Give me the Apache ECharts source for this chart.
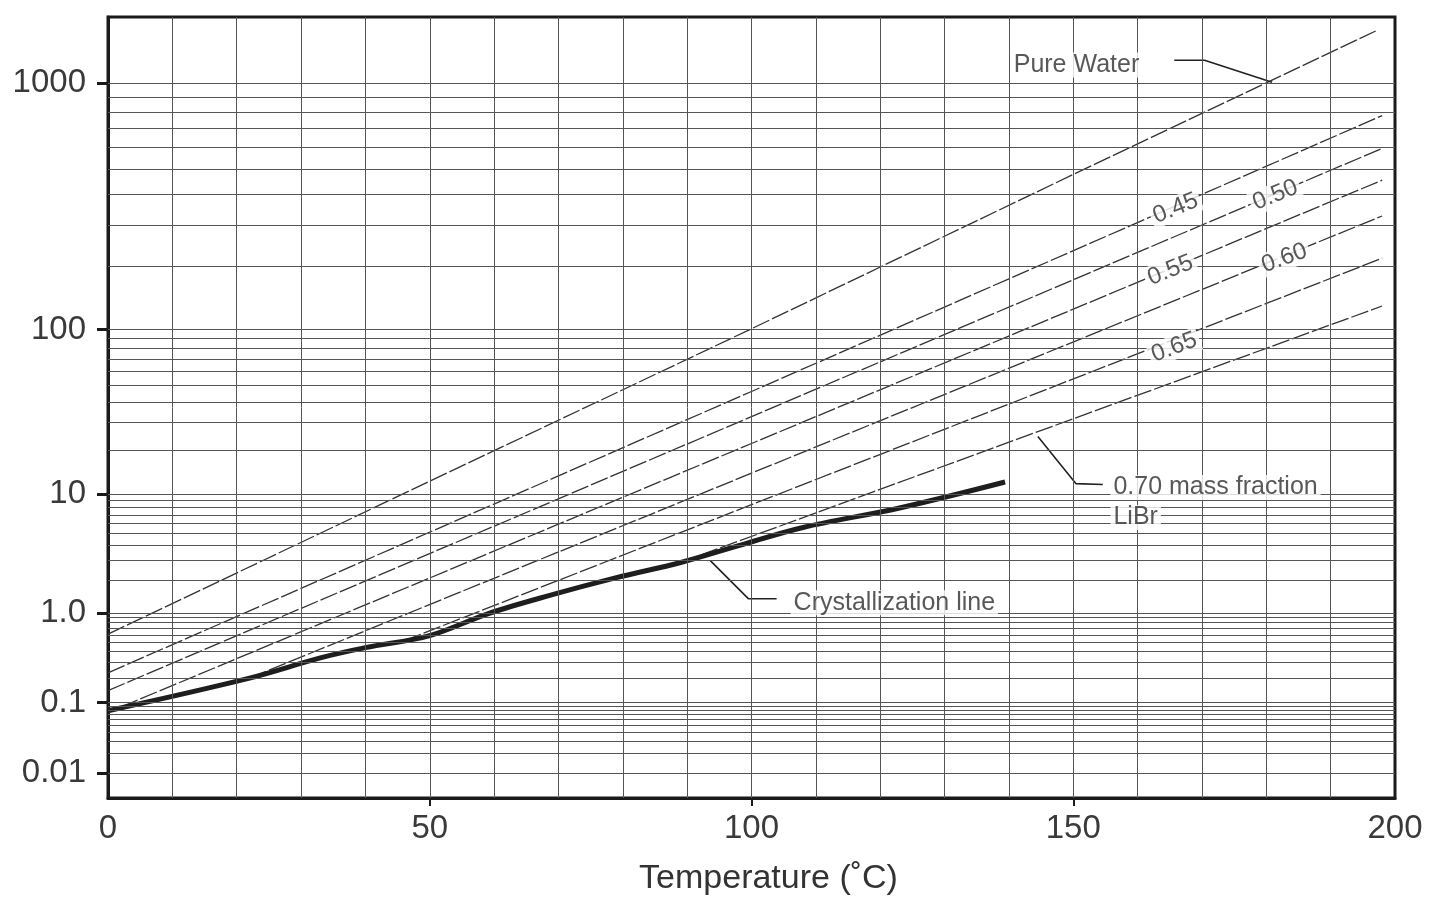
<!DOCTYPE html>
<html>
<head>
<meta charset="utf-8">
<title>LiBr solution vapour pressure</title>
<script src="https://cdn.jsdelivr.net/npm/echarts@6/dist/echarts.min.js"></script>
<style>
  html, body { margin: 0; padding: 0; background: #fff; }
  #chart { width: 1435px; height: 902px; }
</style>
</head>
<body>
<div id="chart"></div>
<script>
// [temperature °C, vapour pressure kPa]
var pureWater = [[0, 0.611], [50, 12.35], [100, 101.4], [150, 476], [197, 1460]];
var libr45 = [[0, 0.2305], [100, 46.1], [198, 777.5]];
var libr50 = [[0, 0.1417], [100, 32.7], [198, 595]];
var libr55 = [[2, 0.088], [100, 22.18], [198, 452.6]];
var libr60 = [[22, 0.20], [100, 14.05], [198, 326.8]];
var libr65 = [[46, 0.52], [100, 8.354], [198, 216.8]];
var libr70 = [[89, 2.9], [140, 22.6], [198, 131.0]];
var crystallization = [[0, 0.079], [22, 0.20], [33, 0.34], [40, 0.44], [50, 0.59], [59, 0.98],
  [68.5, 1.46], [79, 2.13], [89, 2.89], [98, 4.0], [108, 5.6], [123, 7.9], [139.4, 12.2]];

// axis ticks
var xLabelValues = [0, 50, 100, 150, 200];
var xTickValues = [50, 100, 150];
var xGridTemps = [10, 20, 30, 40, 50, 60, 70, 80, 90, 100, 110, 120, 130, 140, 150, 160, 170, 180, 190];
var yTickKpa = [0.01, 0.1, 1, 10, 100, 1000];
var yTickText = ['0.01', '0.1', '1.0', '10', '100', '1000'];
var gridDecades = [0.01, 0.1, 1, 10, 100];
var gridSteps = [1, 2, 3, 4, 5, 6, 7, 8, 9];

// the pressure scale is spaced by the saturation temperature of water (Antoine)
function satTemp(kpa) {
  var lg = Math.log10(kpa * 7.50062);
  if (kpa < 101.325) return 1730.63 / (8.07131 - lg) - 233.426;
  return 1810.94 / (8.14019 - lg) - 244.485;
}
function toAxis(list) {
  return list.map(function (p) { return [p[0], satTemp(p[1])]; });
}

var yTickU = yTickKpa.map(satTemp);
var gridKpa = [];
gridDecades.forEach(function (d) {
  gridSteps.forEach(function (s) { gridKpa.push(d * s); });
});
gridKpa.push(1000);

var FONT = '"Liberation Sans", Arial, sans-serif';

function solutionLine(name, data) {
  return {
    name: name, type: 'line', data: toAxis(data), symbol: 'none', z: 3,
    lineStyle: { color: '#333', width: 1.3, type: [18, 3] },
    silent: true, animation: false
  };
}
function leader(data) {
  return {
    type: 'line', data: toAxis(data), symbol: 'none', z: 4,
    lineStyle: { color: '#222', width: 1.6 }, silent: true, animation: false
  };
}
function note(text, t, kpa, opts) {
  var lab = Object.assign({
    show: true, formatter: text, fontSize: 24, color: '#2e2e2e', fontFamily: FONT,
    backgroundColor: '#fff', padding: [0, 3], position: 'inside'
  }, opts || {});
  return { value: [t, satTemp(kpa)], label: lab };
}

var chart = echarts.init(document.getElementById('chart'));
chart.setOption({
  animation: false,
  backgroundColor: '#fff',
  grid: {
    left: 108, right: 40, top: 17, bottom: 104,
    show: true, borderColor: '#1a1a1a', borderWidth: 3, backgroundColor: 'transparent',
    outerBoundsMode: 'none'
  },
  xAxis: {
    type: 'value', min: 0, max: 200,
    name: 'Temperature (˚C)', nameLocation: 'middle', nameGap: 64,
    nameTextStyle: { fontSize: 34, color: '#333', fontFamily: FONT, padding: [0, 0, 0, 34] },
    axisLine: { show: true, onZero: false, lineStyle: { color: '#1a1a1a', width: 3 } },
    axisTick: { show: true, customValues: xTickValues, length: 8, lineStyle: { color: '#1a1a1a', width: 2 } },
    axisLabel: { customValues: xLabelValues, fontSize: 33, color: '#3a3a3a', fontFamily: FONT, margin: 14 },
    splitLine: { show: false }
  },
  yAxis: {
    type: 'value', min: -53.4, max: 201.7,
    axisLine: { show: true, onZero: false, lineStyle: { color: '#1a1a1a', width: 3 } },
    axisTick: { show: true, customValues: yTickU, length: 11, lineStyle: { color: '#1a1a1a', width: 3 } },
    axisLabel: {
      customValues: yTickU, fontSize: 33, color: '#3a3a3a', fontFamily: FONT, margin: 22,
      formatter: function (v) {
        for (var i = 0; i < yTickU.length; i++) {
          if (Math.abs(yTickU[i] - v) < 0.01) return yTickText[i];
        }
        return '';
      }
    },
    splitLine: { show: false }
  },
  series: [
    {
      type: 'line', data: [], z: 1, silent: true,
      markLine: {
        silent: true, symbol: ['none', 'none'], label: { show: false }, animation: false,
        lineStyle: { color: '#555', width: 1, type: 'solid' },
        emphasis: { disabled: true },
        data: xGridTemps.map(function (t) { return { xAxis: t }; })
          .concat(gridKpa.map(function (p) { return { yAxis: satTemp(p) }; }))
      }
    },
    solutionLine('Pure Water', pureWater),
    solutionLine('0.45', libr45),
    solutionLine('0.50', libr50),
    solutionLine('0.55', libr55),
    solutionLine('0.60', libr60),
    solutionLine('0.65', libr65),
    solutionLine('0.70', libr70),
    {
      name: 'Crystallization line', type: 'line', data: toAxis(crystallization), symbol: 'none',
      smooth: 0.35, z: 4, lineStyle: { color: '#1e1e1e', width: 5 }, silent: true
    },
    leader([[165.7, 1185.5], [170.4, 1185.5], [180.9, 1006.7]]),
    leader([[144.5, 24.6], [150.4, 11.88], [154.6, 11.71]]),
    leader([[93.6, 3.0], [99.5, 1.368], [103.9, 1.368]]),
    {
      type: 'scatter', symbolSize: 1, itemStyle: { color: 'transparent' }, z: 5, silent: true,
      data: [
        note('Pure Water', 150.5, 1144, { fontSize: 25 }),
        note('0.45', 165.9, 351, { rotate: 22 }),
        note('0.50', 181.4, 396, { rotate: 22 }),
        note('0.55', 165.1, 191.6, { rotate: 22 }),
        note('0.60', 182.8, 216.8, { rotate: 20 }),
        note('0.65', 165.7, 80.7, { rotate: 21 }),
        note('0.70 mass fraction', 155.7, 11.14, { position: 'right', distance: 0, fontSize: 25 }),
        note('LiBr', 155.7, 6.68, { position: 'right', distance: 0, fontSize: 25 }),
        note('Crystallization line', 106.0, 1.254, { position: 'right', distance: 0, fontSize: 25 })
      ]
    }
  ]
});
</script>
</body>
</html>
